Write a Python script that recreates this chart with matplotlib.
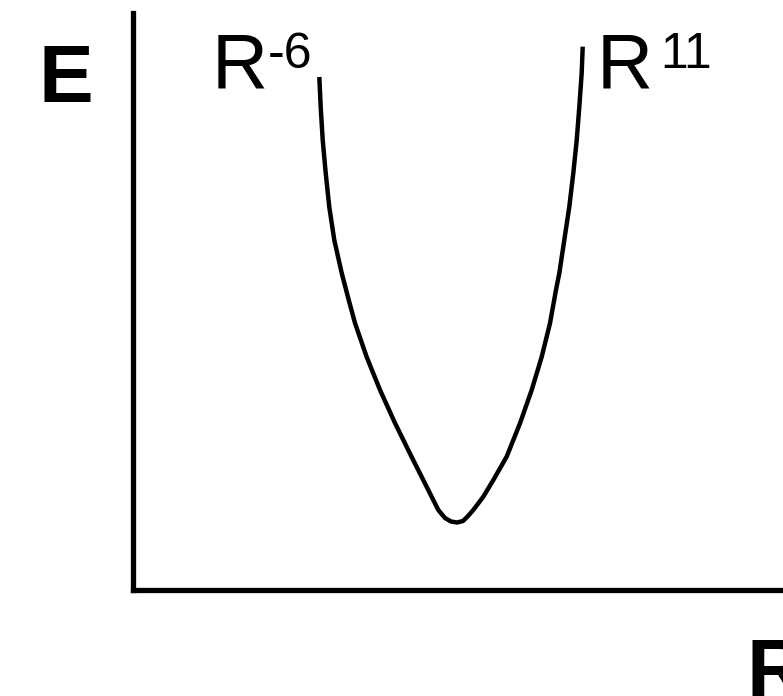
import matplotlib
matplotlib.use("Agg")
import matplotlib.pyplot as plt

# curve (arbitrary units, axes run 0..10)
r_vals = [2.872, 2.893, 2.924, 2.970, 3.025, 3.102, 3.216, 3.324, 3.420, 3.600,
          3.805, 4.035, 4.292, 4.547, 4.701, 4.804, 4.896, 4.988,
          5.081, 5.158, 5.239, 5.393, 5.547, 5.752, 5.957, 6.137, 6.291,
          6.418, 6.510, 6.561, 6.638, 6.715, 6.776, 6.829, 6.869, 6.905, 6.921]
e_vals = [8.890, 8.369, 7.797, 7.225, 6.635, 6.062, 5.490, 5.022, 4.623, 4.033,
          3.461, 2.888, 2.298, 1.726, 1.379, 1.240, 1.180, 1.162,
          1.188, 1.275, 1.379, 1.610, 1.899, 2.304, 2.883, 3.461, 4.038,
          4.617, 5.195, 5.485, 6.062, 6.640, 7.219, 7.797, 8.375, 8.954, 9.416]

y_label = "E"
x_label = "R"
left_base, left_exp = "R", "-6"
right_base, right_exp = "R", "11"

W, H = 783, 696
plt.rcParams['font.family'] = ['Liberation Sans', 'DejaVu Sans']

fig = plt.figure(figsize=(W / 100, H / 100), dpi=100)
fig.patch.set_facecolor('white')

# axes placed in pixel terms: left spine x=132.5, bottom spine y=589.5, top y=13
ax = fig.add_axes([132.5 / W, (H - 589.5) / H, (W - 132.5 + 20) / W, (589.5 - 13) / H])
ax.set_xlim(0, 10 * (W - 132.5 + 20) / (W - 132.5))
ax.set_ylim(0, 10)
ax.plot(r_vals, e_vals, color='black', lw=3.2, solid_capstyle='butt',
        solid_joinstyle='round')

for s in ['top', 'right']:
    ax.spines[s].set_visible(False)
for s in ['left', 'bottom']:
    ax.spines[s].set_linewidth(3.8)
    ax.spines[s].set_color('black')
ax.set_xticks([])
ax.set_yticks([])
ax.patch.set_alpha(0)


def px_text(x, y, s, size, weight='normal'):
    # x = left of text, y = baseline, in image pixels from top-left
    fig.text(x / W, 1 - y / H, s, fontsize=size, fontweight=weight,
             ha='left', va='baseline', color='black')


px_text(39, 102, y_label, 59, 'bold')
px_text(746, 695, x_label, 59, 'bold')
px_text(212, 88, left_base, 56)
px_text(268, 68, left_exp, 36)
px_text(597, 88, right_base, 56)
px_text(660, 68, right_exp, 36)

fig.savefig("out.png", dpi=100, facecolor='white')
